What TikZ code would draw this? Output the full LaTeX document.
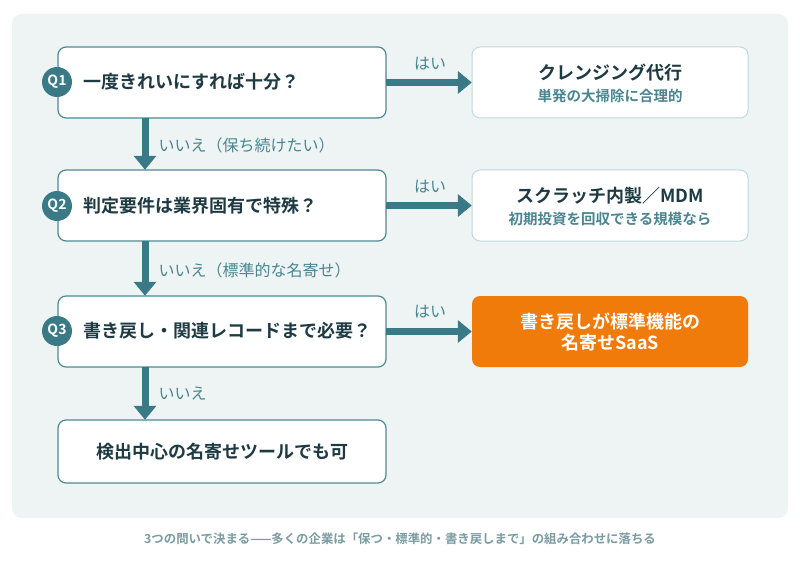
\documentclass[tikz,border=0pt]{standalone}
\usepackage{fontspec}
\usetikzlibrary{arrows.meta}
\setmainfont{Noto Sans CJK JP}
\newfontfamily\jpb{Noto Sans CJK JP}[BoldFont={* Bold}]
\definecolor{panel}{HTML}{EEF4F4}
\definecolor{teal}{HTML}{3A7A86}
\definecolor{dark}{HTML}{1E3A42}
\definecolor{sub}{HTML}{4A8590}
\definecolor{edge}{HTML}{4E8A94}
\definecolor{redge}{HTML}{BFD9DC}
\definecolor{orng}{HTML}{F07A0A}
\definecolor{cap}{HTML}{7A9CA2}
\begin{document}
\begin{tikzpicture}[x=1pt,y=-1pt,
 qbox/.style={draw=edge,line width=1.2pt,fill=white,rounded corners=8pt},
 rbox/.style={draw=redge,line width=1pt,fill=white,rounded corners=8pt},
 qc/.style={circle,fill=teal,minimum size=30pt,inner sep=0pt,text=white,font=\jpb\bfseries\fontsize{14}{14}\selectfont},
 qt/.style={anchor=west,text=dark,font=\jpb\bfseries\fontsize{18}{18}\selectfont},
 rt/.style={text=dark,font=\jpb\bfseries\fontsize{18}{18}\selectfont},
 rs/.style={text=sub,font=\jpb\bfseries\fontsize{14.5}{14.5}\selectfont},
 lab/.style={text=sub,font=\jpb\fontsize{16}{16}\selectfont},
 arr/.style={draw=teal,line width=7pt,-{Triangle[length=14pt,width=22pt]}}]
\useasboundingbox (0,0) rectangle (800,564);
\fill[white] (0,0) rectangle (800,564);
\fill[panel,rounded corners=10pt] (12,14) rectangle (788,518);
\node (q1b) [inner sep=0pt,minimum width=328pt,minimum height=71pt] at (222,82.5) {};
\node (q2b) [inner sep=0pt,minimum width=328pt,minimum height=71pt] at (222,205.5) {};
\node (q3b) [inner sep=0pt,minimum width=328pt,minimum height=71pt] at (222,331.5) {};
\node (q4b) [inner sep=0pt,minimum width=328pt,minimum height=63pt] at (222,451.5) {};
\node (r1b) [inner sep=0pt,minimum width=276pt,minimum height=71pt] at (610,82.5) {};
\node (r2b) [inner sep=0pt,minimum width=276pt,minimum height=71pt] at (610,205.5) {};
\node (r3b) [inner sep=0pt,minimum width=276pt,minimum height=71pt] at (610,331.5) {};
\draw[qbox] (58,47) rectangle (386,118);
\draw[qbox] (58,170) rectangle (386,241);
\draw[qbox] (58,296) rectangle (386,367);
\draw[qbox] (58,420) rectangle (386,483);
\draw[rbox] (472,47) rectangle (748,118);
\draw[rbox] (472,170) rectangle (748,241);
\fill[orng,rounded corners=8pt] (472,296) rectangle (748,367);
\node[qc] (c1) at (57,82) {Q1};
\node[qc] (c2) at (57,206) {Q2};
\node[qc] (c3) at (57,331) {Q3};
\node[qt] (t1) at (80,82) {一度きれいにすれば十分？};
\node[qt] (t2) at (80,206) {判定要件は業界固有で特殊？};
\node[qt] (t3) at (80,331) {書き戻し・関連レコードまで必要？};
\node[qt] (t4) at (93,452) {検出中心の名寄せツールでも可};
\node[rt] (r1t) at (610,73) {クレンジング代行};
\node[rs] (r1s) at (610,96) {単発の大掃除に合理的};
\node[rt] (r2t) at (610,196) {スクラッチ内製／MDM};
\node[rs] (r2s) at (610,219) {初期投資を回収できる規模なら};
\node[rt,text=white,align=center] (r3t) at (610,332) {書き戻しが標準機能の\\[3pt]名寄せSaaS};
\draw[arr] (q1b.east) -- (r1b.west);
\draw[arr] (q2b.east) -- (r2b.west);
\draw[arr] (q3b.east) -- (r3b.west);
\draw[arr] (q1b.south -| 145,0) -- (q2b.north -| 145,0);
\draw[arr] (q2b.south -| 145,0) -- (q3b.north -| 145,0);
\draw[arr] (q3b.south -| 145,0) -- (q4b.north -| 145,0);
\node[lab] (h1) at (430,64) {はい};
\node[lab] (h2) at (430,187) {はい};
\node[lab] (h3) at (430,312) {はい};
\node[lab,anchor=west] (n1) at (155,145) {いいえ（保ち続けたい）};
\node[lab,anchor=west] (n2) at (155,270) {いいえ（標準的な名寄せ）};
\node[lab,anchor=west] (n3) at (155,394) {いいえ};
\node[text=cap,font=\jpb\bfseries\fontsize{12.4}{12.4}\selectfont] (capt) at (400,539) {3つの問いで決まる——多くの企業は「保つ・標準的・書き戻しまで」の組み合わせに落ちる};
\end{tikzpicture}
\end{document}
